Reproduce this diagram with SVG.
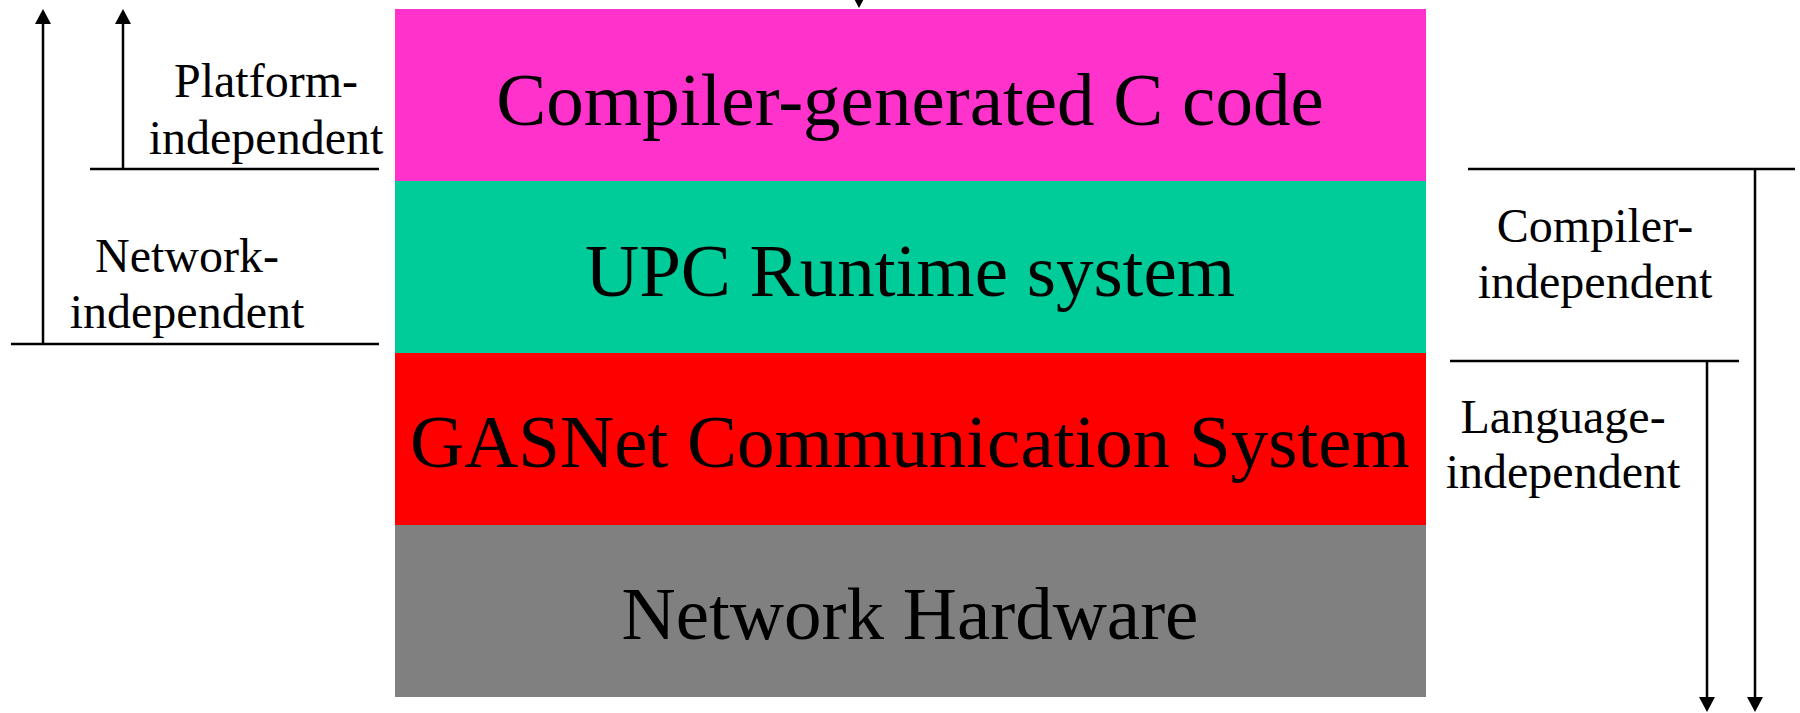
<svg xmlns="http://www.w3.org/2000/svg" width="1800" height="713" viewBox="0 0 1800 713">
<style>
.big{font-family:"Liberation Serif","Times New Roman",serif;font-size:75px;fill:#000;text-anchor:middle}
.lbl{font-family:"Liberation Serif","Times New Roman",serif;font-size:48px;fill:#000;text-anchor:middle}
.ln{stroke:#000;stroke-width:2.5;fill:none}
.arr{stroke:#000;stroke-width:2.5;fill:none;marker-end:url(#ah)}
</style>
<defs>
<marker id="ah" markerUnits="userSpaceOnUse" viewBox="0 0 15 16" markerWidth="15" markerHeight="16" refX="12" refY="8" orient="auto">
<path d="M0,0 L15,8 L0,16 z" fill="#000"/>
</marker>
</defs>
<rect width="1800" height="713" fill="#fff"/>
<g id="layer-compiler">
<rect x="395" y="9" width="1031" height="172" fill="#FF33CC"/>
<text class="big" x="910" y="125">Compiler-generated C code</text>
</g>
<g id="layer-runtime">
<rect x="395" y="181" width="1031" height="172" fill="#00CC99"/>
<text class="big" x="910" y="296">UPC Runtime system</text>
</g>
<g id="layer-gasnet">
<rect x="395" y="353" width="1031" height="172" fill="#FF0000"/>
<text class="big" x="910" y="467">GASNet Communication System</text>
</g>
<g id="layer-hardware">
<rect x="395" y="525" width="1031" height="172" fill="#808080"/>
<text class="big" x="910" y="639">Network Hardware</text>
</g>
<g id="label-platform">
<text class="lbl" x="266" y="97">Platform-</text>
<text class="lbl" x="266" y="154">independent</text>
</g>
<g id="label-network">
<text class="lbl" x="187" y="272">Network-</text>
<text class="lbl" x="187" y="328">independent</text>
</g>
<g id="label-compiler">
<text class="lbl" x="1595" y="242">Compiler-</text>
<text class="lbl" x="1595" y="298">independent</text>
</g>
<g id="label-language">
<text class="lbl" x="1563" y="433">Language-</text>
<text class="lbl" x="1563" y="488">independent</text>
</g>
<g id="connectors">
<line class="arr" x1="859" y1="-60" x2="859" y2="5"/>
<line class="ln" x1="11" y1="344" x2="379" y2="344"/>
<line class="arr" x1="43" y1="344" x2="43" y2="12"/>
<line class="ln" x1="90" y1="169" x2="379" y2="169"/>
<line class="arr" x1="123" y1="169" x2="123" y2="12"/>
<line class="ln" x1="1468" y1="169" x2="1795" y2="169"/>
<line class="arr" x1="1755" y1="169" x2="1755" y2="709"/>
<line class="ln" x1="1450" y1="361" x2="1739" y2="361"/>
<line class="arr" x1="1707" y1="361" x2="1707" y2="709"/>
</g>
</svg>
